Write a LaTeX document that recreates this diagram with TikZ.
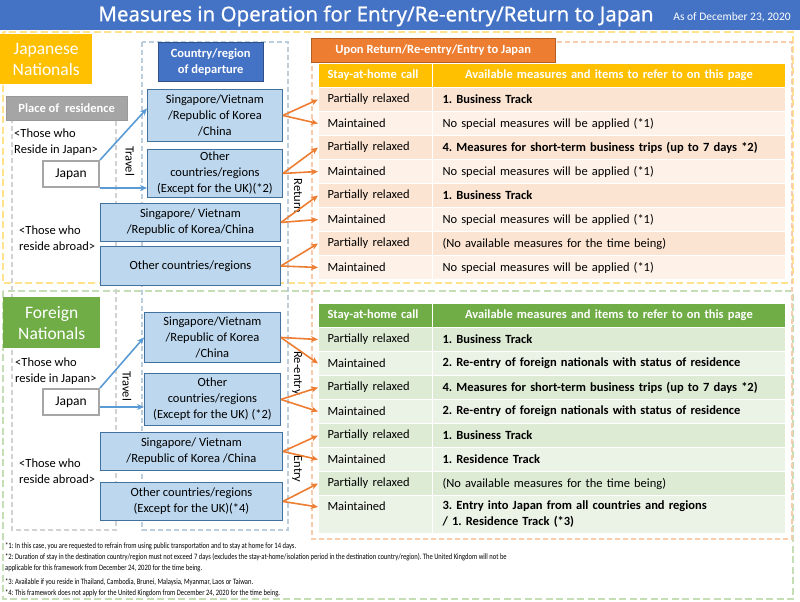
\documentclass[tikz,border=0pt]{standalone}
\usepackage{fontspec}
\setmainfont{Carlito}
\newfontfamily\titlefont[FakeBold=0.6]{Noto Sans}
\newfontfamily\notefont[FakeStretch=0.8]{Carlito}
\usetikzlibrary{arrows.meta}
\frenchspacing
\definecolor{hdblue}{HTML}{4472C4}
\definecolor{hdyellow}{HTML}{FFC000}
\definecolor{hdorange}{HTML}{ED7D31}
\definecolor{hdgreen}{HTML}{70AD47}
\definecolor{hdgray}{HTML}{A5A5A5}
\definecolor{boxfill}{HTML}{BDD7EE}
\definecolor{boxline}{HTML}{41719C}
\definecolor{orrowA}{HTML}{FCE4D2}
\definecolor{orrowB}{HTML}{FDF1E8}
\definecolor{grrowA}{HTML}{DDEBD5}
\definecolor{grrowB}{HTML}{EBF2E6}
\definecolor{arrblue}{HTML}{5B9BD5}

\begin{document}
\begin{tikzpicture}[x=1pt,y=-1pt,
  every node/.style={font=\fontsize{12.5}{16}\selectfont},
  frame/.style={dash pattern=on 7pt off 3.5pt,line width=1.6pt},
  colframe/.style={dash pattern=on 5pt off 3pt,line width=1.2pt},
  country/.style={draw=boxline,fill=boxfill,line width=0.9pt,align=center,inner sep=0pt,anchor=north west},
  label/.style={fill=#1,text=white,inner sep=0pt,anchor=north west,align=center},
  homebox/.style={draw=gray!70,line width=2pt,fill=white,inner sep=0pt,anchor=north west,minimum width=56pt,minimum height=26pt,font=\fontsize{13.5}{16}\selectfont},
  who/.style={anchor=west,align=left,inner sep=0pt},
  side/.style={rotate=-90,inner sep=0pt},
  stay/.style={draw=white,line width=1pt,anchor=north west,inner xsep=9pt,inner ysep=0pt,text width=96pt,minimum height=24pt,align=left},
  measure/.style={draw=white,line width=1pt,anchor=north west,inner xsep=10pt,inner ysep=0pt,text width=333pt,minimum height=24pt,align=left},
  go/.style={draw=arrblue,line width=1.6pt,-{Stealth[length=7pt,width=6pt]}},
  back/.style={draw=hdorange,line width=1.6pt,-{Stealth[length=7pt,width=6pt]}},
  note/.style={anchor=west,inner sep=0pt,font=\notefont\fontsize{8.2}{9}\selectfont}
]
\useasboundingbox (0,0) rectangle (800,602);
\fill[white] (0,0) rectangle (800,602);

\node[fill=hdblue,anchor=north west,minimum width=800pt,minimum height=30pt,inner sep=0pt] (bar) at (0,0) {};
\node[text=white,font=\titlefont\fontsize{20.5}{22}\selectfont] (title) at (376,16) {Measures in Operation for Entry/Re-entry/Return to Japan};
\node[text=white,font=\fontsize{11.5}{12}\selectfont] (date) at (732,17) {As of December 23, 2020};

\draw[frame,draw=hdyellow!45] (3,32) rectangle (793,283);
\draw[frame,draw=hdgreen!40] (3,291) rectangle (793,599);
\draw[colframe,draw=gray!35] (12,110) rectangle (116,530);
\draw[colframe,draw=boxline!35] (142,42) rectangle (288,530);
\draw[colframe,draw=hdorange!40] (312,42) rectangle (792,539);

\node[label=hdyellow,minimum width=92pt,minimum height=50pt,font=\fontsize{17.5}{21}\selectfont] (jpnat) at (0,34) {Japanese\\Nationals};
\node[label=hdgray,draw=gray!80,minimum width=121pt,minimum height=24pt,font=\bfseries\fontsize{12.5}{14}\selectfont] (place) at (6,96) {Place of\ \ residence};
\node[label=hdblue,draw=hdblue!70!black,minimum width=105pt,minimum height=39pt,font=\bfseries\fontsize{12.5}{16}\selectfont] (depart) at (158,42) {Country/region\\of departure};
\node[label=hdorange,draw=hdorange!75!black,minimum width=244pt,minimum height=24pt,font=\bfseries\fontsize{12.5}{14}\selectfont] (tab) at (311,38) {Upon Return/Re-entry/Entry to Japan};

\node[who] (jinjp) at (14,142) {<Those who\\Reside in Japan>};
\node[who] (jabroad) at (19,238) {<Those who\\reside abroad>};
\node[homebox] (jhome) at (42,160) {Japan};
\node[side] (jtravel) at (130,161) {Travel};
\node[side] (jreturn) at (298,196) {Return};

\node[country,minimum width=135pt,minimum height=52pt] (j1) at (147,89) {Singapore/Vietnam\\/Republic of Korea\\/China};
\node[country,minimum width=135pt,minimum height=48pt] (j2) at (147,149) {Other\\countries/regions\\(Except for the UK)(*2)};
\node[country,minimum width=180pt,minimum height=38pt] (j3) at (100,203) {Singapore/ Vietnam\\/Republic of Korea/China};
\node[country,minimum width=180pt,minimum height=39pt] (j4) at (100,246) {Other countries/regions};

\node[stay,fill=hdyellow,text=white,font=\bfseries\fontsize{12.5}{14}\selectfont] (jh1) at (318,63) {Stay-at-home call};
\node[measure,fill=hdyellow,text=white,align=center,font=\bfseries\fontsize{12.5}{14}\selectfont] (jh2) at (432,63) {Available measures and items to refer to on this page};
\node[stay,fill=orrowA] (jr1) at (318,87) {Partially relaxed};
\node[measure,fill=orrowA,font=\bfseries\fontsize{12.5}{14}\selectfont] (jm1) at (432,87) {1. Business Track};
\node[stay,fill=orrowB] (jr2) at (318,111) {Maintained};
\node[measure,fill=orrowB] (jm2) at (432,111) {No special measures will be applied (*1)};
\node[stay,fill=orrowA] (jr3) at (318,135) {Partially relaxed};
\node[measure,fill=orrowA,font=\bfseries\fontsize{12.5}{14}\selectfont] (jm3) at (432,135) {4. Measures for short-term business trips (up to 7 days *2)};
\node[stay,fill=orrowB] (jr4) at (318,159) {Maintained};
\node[measure,fill=orrowB] (jm4) at (432,159) {No special measures will be applied (*1)};
\node[stay,fill=orrowA] (jr5) at (318,183) {Partially relaxed};
\node[measure,fill=orrowA,font=\bfseries\fontsize{12.5}{14}\selectfont] (jm5) at (432,183) {1. Business Track};
\node[stay,fill=orrowB] (jr6) at (318,207) {Maintained};
\node[measure,fill=orrowB] (jm6) at (432,207) {No special measures will be applied (*1)};
\node[stay,fill=orrowA] (jr7) at (318,231) {Partially relaxed};
\node[measure,fill=orrowA] (jm7) at (432,231) {(No available measures for the time being)};
\node[stay,fill=orrowB] (jr8) at (318,255) {Maintained};
\node[measure,fill=orrowB] (jm8) at (432,255) {No special measures will be applied (*1)};

\node[label=hdgreen,minimum width=97pt,minimum height=51pt,font=\fontsize{17.5}{21}\selectfont] (fornat) at (3,297) {Foreign\\Nationals};
\node[who] (finjp) at (15,371) {<Those who\\reside in Japan>};
\node[who] (fabroad) at (19,471) {<Those who\\reside abroad>};
\node[homebox] (fhome) at (42,388) {Japan};
\node[side] (ftravel) at (127,386) {Travel};
\node[side] (freentry) at (297,373) {Re-entry};
\node[side] (fentry) at (297,469) {Entry};

\node[country,minimum width=136pt,minimum height=50pt] (f1) at (144,312) {Singapore/Vietnam\\/Republic of Korea\\/China};
\node[country,minimum width=136pt,minimum height=52pt] (f2) at (144,373) {Other\\countries/regions\\(Except for the UK) (*2)};
\node[country,minimum width=182pt,minimum height=38pt] (f3) at (100,432) {Singapore/ Vietnam\\/Republic of Korea /China};
\node[country,minimum width=182pt,minimum height=38pt] (f4) at (100,482) {Other countries/regions\\(Except for the UK)(*4)};

\node[stay,fill=hdgreen,text=white,font=\bfseries\fontsize{12.5}{14}\selectfont] (fh1) at (318,303) {Stay-at-home call};
\node[measure,fill=hdgreen,text=white,align=center,font=\bfseries\fontsize{12.5}{14}\selectfont] (fh2) at (432,303) {Available measures and items to refer to on this page};
\node[stay,fill=grrowA] (fr1) at (318,327) {Partially relaxed};
\node[measure,fill=grrowA,font=\bfseries\fontsize{12.5}{14}\selectfont] (fm1) at (432,327) {1. Business Track};
\node[stay,fill=grrowB] (fr2) at (318,351) {Maintained};
\node[measure,fill=grrowB,font=\bfseries\fontsize{12.5}{14}\selectfont] (fm2) at (432,351) {2. Re-entry of foreign nationals with status of residence};
\node[stay,fill=grrowA] (fr3) at (318,375) {Partially relaxed};
\node[measure,fill=grrowA,font=\bfseries\fontsize{12.5}{14}\selectfont] (fm3) at (432,375) {4. Measures for short-term business trips (up to 7 days *2)};
\node[stay,fill=grrowB] (fr4) at (318,399) {Maintained};
\node[measure,fill=grrowB,font=\bfseries\fontsize{12.5}{14}\selectfont] (fm4) at (432,399) {2. Re-entry of foreign nationals with status of residence};
\node[stay,fill=grrowA] (fr5) at (318,423) {Partially relaxed};
\node[measure,fill=grrowA,font=\bfseries\fontsize{12.5}{14}\selectfont] (fm5) at (432,423) {1. Business Track};
\node[stay,fill=grrowB] (fr6) at (318,447) {Maintained};
\node[measure,fill=grrowB,font=\bfseries\fontsize{12.5}{14}\selectfont] (fm6) at (432,447) {1. Residence Track};
\node[stay,fill=grrowA] (fr7) at (318,471) {Partially relaxed};
\node[measure,fill=grrowA] (fm7) at (432,471) {(No available measures for the time being)};
\node[stay,fill=grrowB,minimum height=38pt,text depth=16pt] (fr8) at (318,495) {Maintained};
\node[measure,fill=grrowB,minimum height=38pt,font=\bfseries\fontsize{12.5}{16}\selectfont] (fm8) at (432,495) {3. Entry into Japan from all countries and regions\\/ 1. Residence Track (*3)};
\coordinate (fr8pt) at (318,507);

\draw[go] (jhome.north east) -- ([yshift=7pt]j1.west);
\draw[go] (jhome.south east) -- (jhome.south east -| j2.west);
\draw[go] (fhome.north east) -- (f1.west);
\draw[go] ([yshift=-5pt]fhome.east) -- ([yshift=-5pt]fhome.east -| f2.west);

\draw[back] (j1.east) -- (jr1.west);
\draw[back] (j1.east) -- (jr2.west);
\draw[back] (j2.east) -- (jr3.west);
\draw[back] (j2.east) -- (jr4.west);
\draw[back] (j3.east) -- (jr5.west);
\draw[back] (j3.east) -- (jr6.west);
\draw[back] (j4.east) -- (jr7.west);
\draw[back] (j4.east) -- (jr8.west);
\draw[back] (f1.east) -- (fr1.west);
\draw[back] (f1.east) -- (fr2.west);
\draw[back] (f2.east) -- (fr3.west);
\draw[back] (f2.east) -- (fr4.west);
\draw[back] (f3.east) -- (fr5.west);
\draw[back] (f3.east) -- (fr6.west);
\draw[back] (f4.east) -- (fr7.west);
\draw[back] (f4.east) -- (fr8pt);

\node[note] (n1) at (5,546) {*1: In this case, you are requested to refrain from using public transportation and to stay at home for 14 days.};
\node[note] (n2) at (5,557) {*2: Duration of stay in the destination country/region must not exceed 7 days (excludes the stay-at-home/isolation period in the destination country/region). The United Kingdom will not be};
\node[note] (n2b) at (5,568) {applicable for this framework from December 24, 2020 for the time being.};
\node[note] (n3) at (5,582) {*3: Available if you reside in Thailand, Cambodia, Brunei, Malaysia, Myanmar, Laos or Taiwan.};
\node[note] (n4) at (5,593) {*4: This framework does not apply for the United Kingdom from December 24, 2020 for the time being.};
\end{tikzpicture}
\end{document}
